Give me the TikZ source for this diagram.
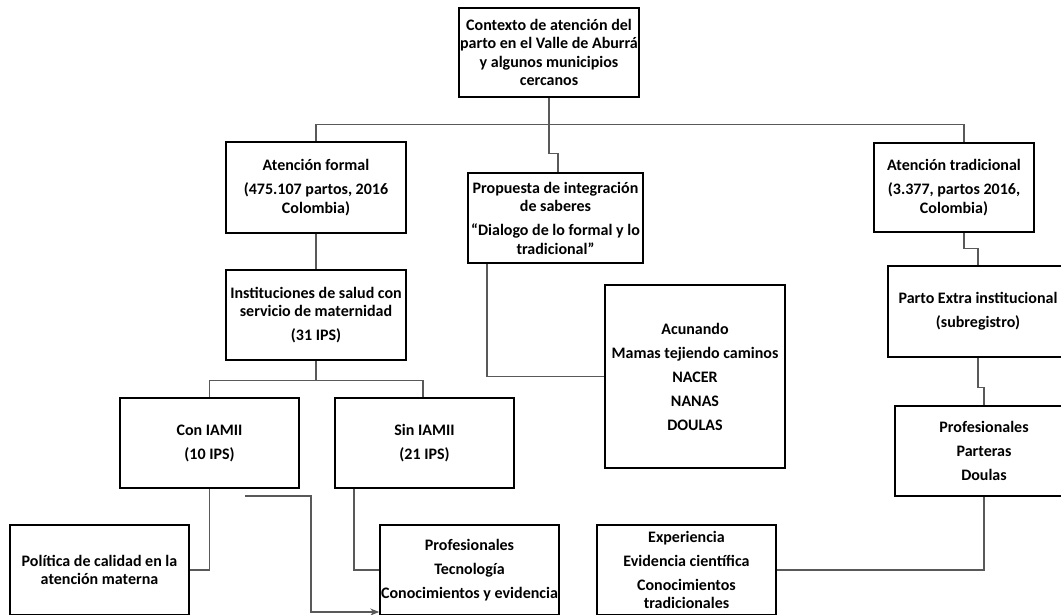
\documentclass[tikz,border=0pt]{standalone}
\usepackage{fontspec}
\setmainfont{Carlito}
\usetikzlibrary{arrows.meta}
\begin{document}
\begin{tikzpicture}[x=1pt,y=-1pt,
  box/.style={draw=black, line width=1.5pt, align=center, inner sep=0pt,
    font=\bfseries\fontsize{16}{18.5}\selectfont},
  conn/.style={draw=black!65, line width=1.1pt}]
\useasboundingbox (0,0) rectangle (1061,614);
\node[box, minimum width=180, minimum height=89] (top) at (549,52.5)
  {Contexto de atención del\\parto en el Valle de Aburrá\\y algunos municipios\\cercanos};
\node[box, minimum width=180, minimum height=91] (formal) at (316,187.5)
  {Atención formal\\[5.5pt](475.107 partos, 2016\\Colombia)};
\node[box, minimum width=175, minimum height=90] (prop) at (555.5,218)
  {Propuesta de integración\\de saberes\\[5.5pt]“Dialogo de lo formal y lo\\tradicional”};
\node[box, minimum width=160, minimum height=89] (trad) at (954,187.5)
  {Atención tradicional\\[5.5pt](3.377, partos 2016,\\Colombia)};
\node[box, minimum width=180, minimum height=90] (inst) at (316,315)
  {Instituciones de salud con\\servicio de maternidad\\[5.5pt](31 IPS)};
\node[box, minimum width=180, minimum height=183] (acun) at (695,376.5)
  {Acunando\\[5.5pt]Mamas tejiendo caminos\\[5.5pt]NACER\\[5.5pt]NANAS\\[5.5pt]DOULAS};
\node[box, minimum width=180, minimum height=91] (parto) at (978,311.5)
  {Parto Extra institucional\\[5.5pt](subregistro)};
\node[box, minimum width=178, minimum height=90] (prof2) at (984,451)
  {Profesionales\\[5.5pt]Parteras\\[5.5pt]Doulas};
\node[box, minimum width=179, minimum height=90] (exp) at (686.5,570)
  {Experiencia\\[5.5pt]Evidencia científica\\[5.5pt]Conocimientos\\tradicionales};
\node[box, minimum width=179, minimum height=90] (con) at (209.5,443)
  {Con IAMII\\[5.5pt](10 IPS)};
\node[box, minimum width=179, minimum height=90] (sin) at (424.5,443)
  {Sin IAMII\\[5.5pt](21 IPS)};
\node[box, minimum width=179, minimum height=90] (pol) at (99.5,570)
  {Política de calidad en la\\atención materna};
\node[box, minimum width=179, minimum height=90] (prof1) at (469.5,570)
  {Profesionales\\[5.5pt]Tecnología\\[5.5pt]Conocimientos y evidencia};
% connectors
\draw[conn] (top.south) -- ++(0,27) -| (formal.north);
\draw[conn] (top.south) -- ++(0,27) -| ([xshift=10pt]trad.north);
\draw[conn] (top.south) -- ++(0,56) -| ([xshift=2.5pt]prop.north);
\draw[conn] (formal.south) -- (inst.north);
\draw[conn] (inst.south) -- ++(0,20) -| (con.north);
\draw[conn] (inst.south) -- ++(0,20) -| ([xshift=-1.5pt]sin.north);
\draw[conn] (con.south) |- (pol.east);
\draw[conn] ([xshift=-70.5pt]sin.south) |- (prof1.west);
\coordinate (a0) at (245,496);
\coordinate (a1) at (311,612);
\draw[conn, -{Stealth[length=9pt,width=7pt]}] (a0) -| (a1) -- (a1 -| prof1.west);
\draw[conn] ([xshift=-68.5pt]prop.south) |- (acun.west);
\draw[conn] ([xshift=10pt]trad.south) -- ++(0,16) -| (parto.north);
\draw[conn] (parto.south) -- ++(0,30) -| (prof2.north);
\draw[conn] (prof2.south) |- (exp.east);
\end{tikzpicture}
\end{document}
